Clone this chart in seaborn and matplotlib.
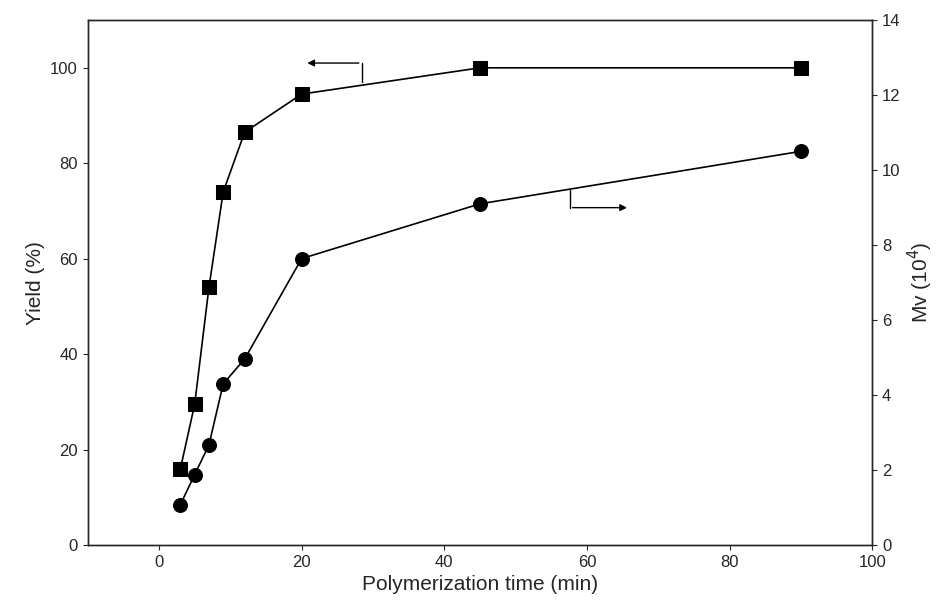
import matplotlib
matplotlib.use("Agg")
import matplotlib.pyplot as plt
import seaborn as sns
import pandas as pd

time_min = [3, 5, 7, 9, 12, 20, 45, 90]
yield_pct = [16, 29.5, 54, 74, 86.5, 94.5, 100, 100]
mv_1e4 = [1.08, 1.88, 2.67, 4.3, 4.96, 7.64, 9.1, 10.5]

sns.set_style("ticks")
plt.rcParams['font.family'] = ['Liberation Sans', 'DejaVu Sans']

df = pd.DataFrame({"t": time_min, "y": yield_pct, "mv": mv_1e4})

fig, ax = plt.subplots(figsize=(9.43, 6.09), dpi=100)
fig.subplots_adjust(left=0.093, right=0.925, top=0.967, bottom=0.105)
sns.lineplot(data=df, x="t", y="y", ax=ax, color="black", marker="s",
             markersize=10, linewidth=1.2, markeredgecolor="black")
ax.set_xlim(-10, 100)
ax.set_ylim(0, 110)
ax.set_xlabel("Polymerization time (min)", fontsize=15)
ax.set_ylabel("Yield (%)", fontsize=15)
ax.set_yticks(range(0, 101, 20))

ax2 = ax.twinx()
sns.lineplot(data=df, x="t", y="mv", ax=ax2, color="black", marker="o",
             markersize=10, linewidth=1.2, markeredgecolor="black")
ax2.set_ylim(0, 14)
ax2.set_ylabel("Mv (10$^4$)", fontsize=15)
ax2.set_yticks(range(0, 15, 2))

for a in (ax, ax2):
    a.tick_params(labelsize=12, direction="out")
    for s in a.spines.values():
        s.set_visible(True)
        s.set_linewidth(1.0)

# arrows indicating axis
ax.plot([28.4, 28.4], [97, 101], color="black", lw=1)
ax.annotate("", xy=(20.4, 101), xytext=(28.4, 101),
            arrowprops=dict(arrowstyle="-|>", color="black", lw=1))
ax.plot([57.6, 57.6], [74.5, 70.7], color="black", lw=1)
ax.annotate("", xy=(66, 70.7), xytext=(57.6, 70.7),
            arrowprops=dict(arrowstyle="-|>", color="black", lw=1))

fig.savefig("out.png", dpi=100)
